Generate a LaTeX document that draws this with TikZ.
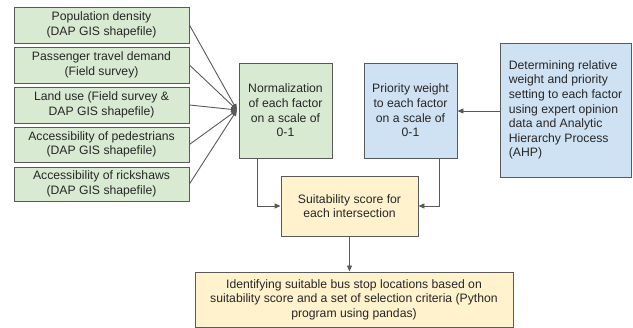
\documentclass[tikz,border=0pt]{standalone}
\usepackage{fontspec}
\setmainfont{Liberation Sans}
\usetikzlibrary{arrows.meta}
\definecolor{gfill}{HTML}{D9EAD3}
\definecolor{bfill}{HTML}{CFE2F3}
\definecolor{yfill}{HTML}{FFF2CC}
\definecolor{edge}{HTML}{595959}
\begin{document}
\begin{tikzpicture}[x=1pt,y=-1pt,
  box/.style={draw=edge,line width=0.9pt,inner sep=1pt,align=center,
    font=\fontsize{12.2}{14.6}\selectfont,text=black!85},
  gbox/.style={box,fill=gfill},
  bbox/.style={box,fill=bfill},
  ybox/.style={box,fill=yfill},
  conn/.style={draw=edge,line width=0.9pt,-{Triangle[length=6pt,width=5pt]}}]
\useasboundingbox (0,0) rectangle (633,328);
\node[gbox,minimum width=175pt,minimum height=36pt] (a1) at (101.5,25) {Population density\\(DAP GIS shapefile)};
\node[gbox,minimum width=175pt,minimum height=36pt] (a2) at (101.5,65) {Passenger travel demand\\(Field survey)};
\node[gbox,minimum width=175pt,minimum height=36pt] (a3) at (101.5,105) {Land use (Field survey \&\\DAP GIS shapefile)};
\node[gbox,minimum width=175pt,minimum height=35pt] (a4) at (101.5,144.5) {Accessibility of pedestrians\\(DAP GIS shapefile)};
\node[gbox,minimum width=175pt,minimum height=34pt] (a5) at (101.5,184) {Accessibility of rickshaws\\(DAP GIS shapefile)};
\coordinate (c) at (237,110);
\node[gbox,minimum width=93pt,minimum height=95pt] (norm) at (285.5,110.5) {Normalization\\of each factor\\on a scale of\\0-1};
\node[bbox,minimum width=93pt,minimum height=95pt] (prio) at (410.5,110.5) {Priority weight\\to each factor\\on a scale of\\0-1};
\node[bbox,minimum width=131pt,minimum height=134pt,align=left] (ahp) at (565.5,110) {Determining relative\\weight and priority\\setting to each factor\\using expert opinion\\data and Analytic\\Hierarchy Process\\(AHP)};
\node[ybox,minimum width=137pt,minimum height=60pt] (suit) at (349.5,206) {Suitability score for\\each intersection};
\node[ybox,minimum width=318pt,minimum height=55pt] (fin) at (354,299.5) {Identifying suitable bus stop locations based on\\suitability score and a set of selection criteria (Python\\program using pandas)};
\foreach \n in {a1,a2,a3,a4,a5} \draw[conn] (\n.east) -- (c);
\draw[conn] (ahp.west |- 0,111) -- (prio.east |- 0,111);
\draw[conn] (norm.south -| 257,0) |- (suit.west);
\draw[conn] (prio.south -| 439,0) |- (suit.east);
\draw[conn] (suit.south) -- (suit.south |- fin.north);
\end{tikzpicture}
\end{document}
